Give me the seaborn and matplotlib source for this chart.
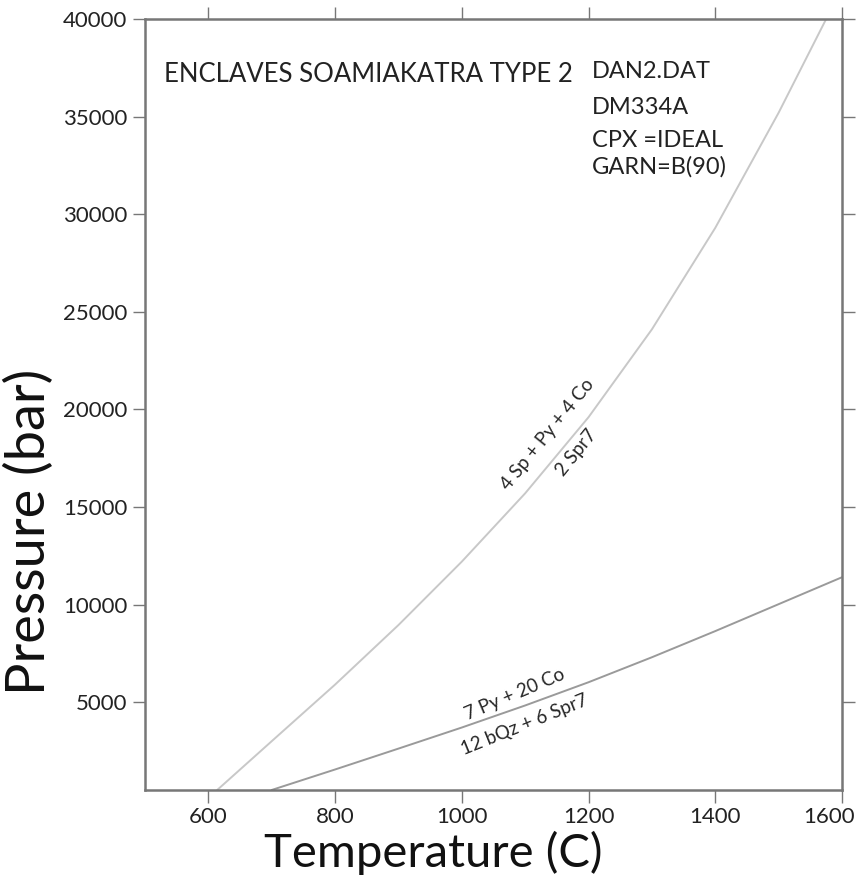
import pandas as pd
import matplotlib.pyplot as plt
import matplotlib.transforms as mtransforms
import seaborn as sns

# reaction curves
temp_upper = [614, 700, 800, 900, 1000, 1100, 1200, 1300, 1400, 1500, 1575]
pres_upper = [500, 3000, 5900, 8950, 12200, 15700, 19600, 24100, 29300, 35200, 40000]

temp_lower = [700, 800, 900, 1000, 1100, 1200, 1300, 1400, 1500, 1600]
pres_lower = [500, 1550, 2620, 3700, 4830, 6020, 7300, 8640, 10020, 11400]

x_ticks = [600, 800, 1000, 1200, 1400, 1600]
y_ticks = [5000, 10000, 15000, 20000, 25000, 30000, 35000, 40000]

df = pd.concat([
    pd.DataFrame({'T': temp_upper, 'P': pres_upper, 'rxn': 'upper'}),
    pd.DataFrame({'T': temp_lower, 'P': pres_lower, 'rxn': 'lower'}),
])

sns.set_style('ticks')
plt.rcParams['font.family'] = ['Lato', 'DejaVu Sans']

fig = plt.figure(figsize=(8.62, 8.76), dpi=100)
ax = fig.add_axes([0.1682, 0.0982, 0.8086, 0.8801])
sns.lineplot(data=df, x='T', y='P', hue='rxn', sort=False, estimator=None,
             palette={'upper': '#c8c8c8', 'lower': '#9a9a9a'},
             linewidth=1.4, legend=False, ax=ax)

ax.set_xlim(500, 1600)
ax.set_ylim(500, 40000)
ax.set_xticks(x_ticks)
ax.set_yticks(y_ticks)
ax.tick_params(axis='both', direction='out', length=9, width=1, color='#777777',
               labelsize=16, labelcolor='#222222', top=True, right=True)
for s in ax.spines.values():
    s.set_color('#777777')
    s.set_linewidth(1.8)

# last x label pulled left so it stays inside the figure
lab = ax.get_xticklabels()[-1]
lab.set_transform(lab.get_transform() + mtransforms.ScaledTranslation(-9 / 72, 0, fig.dpi_scale_trans))

ax.set_xlabel('Temperature (C)', fontsize=34, color='#111111')
ax.set_ylabel('Pressure (bar)', fontsize=39, color='#111111')
ax.xaxis.set_label_coords(0.413, -0.081)
ax.yaxis.set_label_coords(-0.167, 0.335)
ax.xaxis.label.set_va('center')
ax.yaxis.label.set_va('center')

ax.text(530, 37150, 'ENCLAVES SOAMIAKATRA TYPE 2', fontsize=18.5, color='#222222', va='center')
ax.text(1206, 37300, 'DAN2.DAT', fontsize=17, color='#222222', va='center')
ax.text(1206, 35450, 'DM334A', fontsize=17, color='#222222', va='center')
ax.text(1206, 33760, 'CPX =IDEAL', fontsize=17, color='#222222', va='center')
ax.text(1206, 32430, 'GARN=B(90)', fontsize=17, color='#222222', va='center')

ax.text(1135, 18700, '4 Sp + Py + 4 Co', fontsize=13.5, rotation=51, ha='center', va='center')
ax.text(1181, 17770, '2 Spr7', fontsize=13.5, rotation=51, ha='center', va='center')
ax.text(1083, 5410, '7 Py + 20 Co', fontsize=13.5, rotation=23, ha='center', va='center')
ax.text(1099, 3820, '12 bQz + 6 Spr7', fontsize=13.5, rotation=22, ha='center', va='center')

plt.savefig('out.png', dpi=100)
